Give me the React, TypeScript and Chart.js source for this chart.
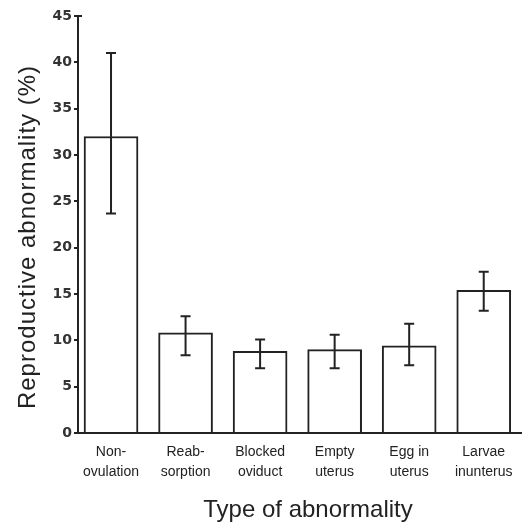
import React, { useEffect, useRef } from "react";
import { Chart, registerables } from "chart.js";

Chart.register(...registerables);

const categories: string[][] = [
  ["Non-", "ovulation"],
  ["Reab-", "sorption"],
  ["Blocked", "oviduct"],
  ["Empty", "uterus"],
  ["Egg in", "uterus"],
  ["Larvae", "inunterus"],
];
const meanValues: number[] = [32.0, 10.8, 8.8, 9.0, 9.4, 15.4];
const errorLow: number[] = [23.7, 8.4, 7.0, 7.0, 7.3, 13.2];
const errorHigh: number[] = [41.0, 12.6, 10.1, 10.6, 11.8, 17.4];
const yTicks: number[] = [0, 5, 10, 15, 20, 25, 30, 35, 40, 45];

const xTitle = "Type of abnormality";
const yTitle = "Reproductive abnormality (%)";

const INK = "#222222";

const errorBarPlugin = {
  id: "errorBars",
  afterDatasetsDraw(chart: any) {
    const ctx = chart.ctx;
    const xs = chart.scales.x;
    const ys = chart.scales.y;
    ctx.save();
    ctx.strokeStyle = INK;
    ctx.lineWidth = 2;
    for (let i = 0; i < meanValues.length; i++) {
      const x = xs.getPixelForValue(i);
      const yl = ys.getPixelForValue(errorLow[i]);
      const yh = ys.getPixelForValue(errorHigh[i]);
      ctx.beginPath();
      ctx.moveTo(x, yl);
      ctx.lineTo(x, yh);
      ctx.moveTo(x - 5, yl);
      ctx.lineTo(x + 5, yl);
      ctx.moveTo(x - 5, yh);
      ctx.lineTo(x + 5, yh);
      ctx.stroke();
    }
    ctx.restore();
  },
  afterDraw(chart: any) {
    const ctx = chart.ctx;
    const area = chart.chartArea;
    const ys = chart.scales.y;
    ctx.save();
    ctx.strokeStyle = INK;
    ctx.lineWidth = 2;
    ctx.beginPath();
    const yTop = ys.getPixelForValue(45);
    ctx.moveTo(area.left, yTop);
    ctx.lineTo(area.left + 4, yTop);
    ctx.stroke();
    ctx.fillStyle = INK;
    ctx.font = "24px 'Liberation Sans', Arial, sans-serif";
    ctx.textAlign = "center";
    ctx.textBaseline = "alphabetic";
    ctx.fillText(xTitle, 308, 517);
    ctx.translate(35, 237);
    ctx.rotate(-Math.PI / 2);
    (ctx as any).letterSpacing = "1px";
    ctx.fillText(yTitle, 0, 0);
    ctx.restore();
  },
};

export default function App() {
  const ref = useRef<HTMLCanvasElement | null>(null);
  useEffect(() => {
    if (!ref.current) return;
    const chart = new Chart(ref.current, {
      type: "bar",
      data: {
        datasets: [
          {
            data: meanValues.map((v, i) => ({ x: i, y: v })),
            backgroundColor: "#ffffff",
            borderColor: INK,
            borderWidth: 2,
            borderSkipped: "bottom",
            barThickness: 54,
          },
        ],
      },
      options: {
        animation: false,
        responsive: false,
        devicePixelRatio: 1,
        layout: { padding: { top: 16, right: 1, left: 0, bottom: 0 } },
        plugins: { legend: { display: false }, tooltip: { enabled: false } },
        scales: {
          x: {
            type: "linear",
            min: -0.443,
            max: 5.5,
            bounds: "data",
            offset: false,
            afterFit: (s: any) => {
              s.height = 92;
            },
            afterBuildTicks: (s: any) => {
              s.ticks = categories.map((_, i) => ({ value: i }));
            },
            ticks: {
              autoSkip: false,
              maxRotation: 0,
              padding: 9,
              color: INK,
              font: { family: "'Liberation Sans', Arial, sans-serif", size: 14, lineHeight: 1.43 },
              callback: (v: any) => categories[Number(v)] ?? "",
            },
            grid: { display: false, drawTicks: false, offset: false },
            border: { display: true, color: INK, width: 2 },
          },
          y: {
            min: 0,
            max: 45,
            afterFit: (s: any) => {
              s.width = 78;
            },
            afterBuildTicks: (s: any) => {
              s.ticks = yTicks.map((v) => ({ value: v }));
            },
            ticks: {
              padding: 2,
              color: "#333333",
              font: { family: "'DejaVu Sans', sans-serif", size: 14, weight: "bold" },
            },
            grid: { drawOnChartArea: false, drawTicks: true, tickLength: 4, color: INK, lineWidth: 2 },
            border: { display: true, color: INK, width: 2 },
          },
        },
      },
      plugins: [errorBarPlugin],
    });
    return () => chart.destroy();
  }, []);
  return (
    <div style={{ position: "absolute", left: 0, top: 0, width: 522, height: 525, background: "#fff" }}>
      <canvas ref={ref} width={522} height={525} style={{ display: "block" }} />
    </div>
  );
}
